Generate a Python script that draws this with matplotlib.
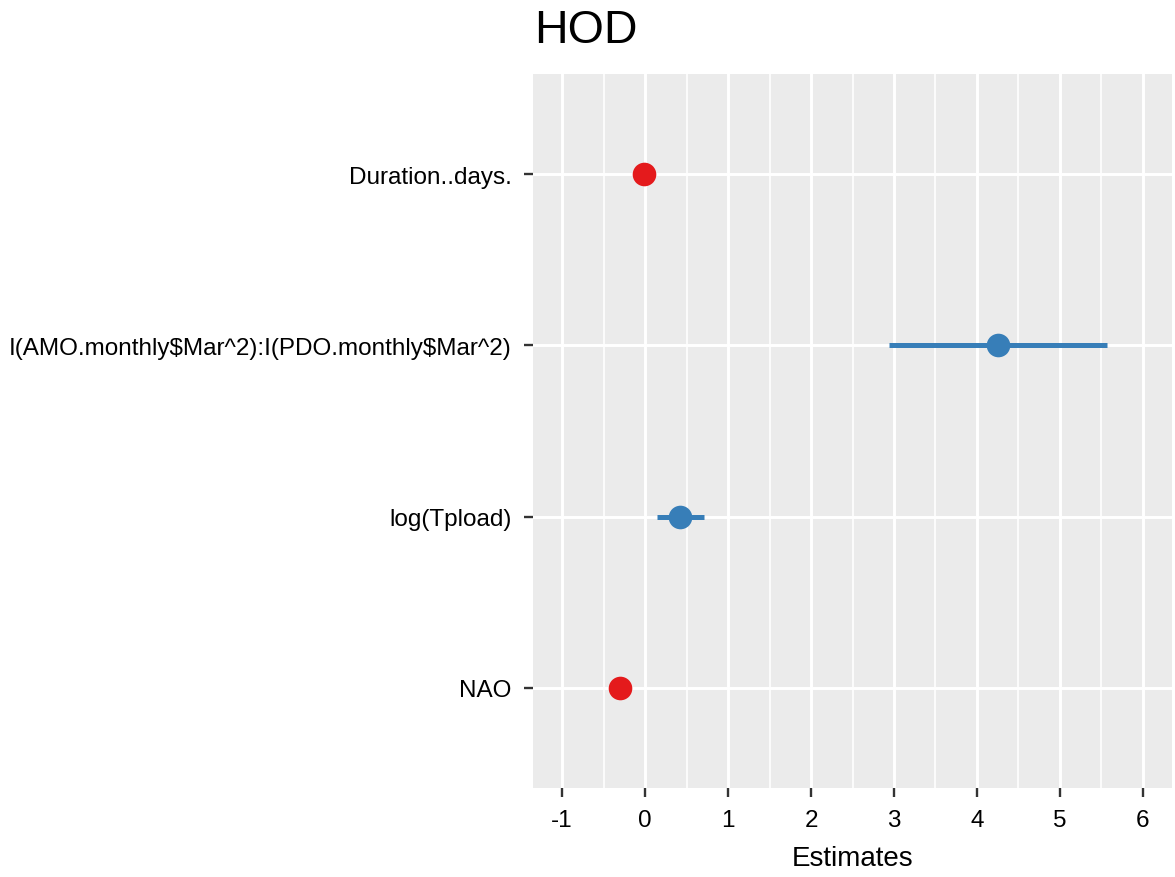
"""
Forest plot of model estimates for HOD
"""

import numpy as np
import matplotlib.pyplot as plt
from matplotlib.ticker import MultipleLocator

# terms from bottom to top
terms = ['NAO', 'log(Tpload)', r'I(AMO.monthly\$Mar^2):I(PDO.monthly\$Mar^2)', 'Duration..days.']
estimates = [-0.30, 0.42, 4.25, -0.01]
conf_low = [-0.33, 0.14, 2.94, -0.03]
conf_high = [-0.27, 0.71, 5.57, 0.01]
positive = [False, True, True, False]

col_pos = '#377EB8'
col_neg = '#E41A1C'


def main():
    plt.rcParams['font.family'] = ['Liberation Sans', 'DejaVu Sans']
    plt.rcParams['axes.unicode_minus'] = False

    fig = plt.figure()
    fig.set_size_inches(11.75, 8.78)

    left, right, top, bottom = 533/1175, 1172/1175, 1-75/878, 1-789/878
    ax = fig.add_axes([left, bottom, right-left, top-bottom])
    ax.set_facecolor('#EBEBEB')

    ypos = np.arange(1, len(terms)+1)
    for y, est, lo, hi, pos in zip(ypos, estimates, conf_low, conf_high, positive):
        c = col_pos if pos else col_neg
        ax.plot([lo, hi], [y, y], color=c, lw=3.6, solid_capstyle='butt', zorder=3)
        ax.plot(est, y, 'o', color=c, ms=17, mec='none', zorder=4)

    ax.set_xlim(-1.35, 6.35)
    ax.set_ylim(0.415, 4.585)
    ax.xaxis.set_major_locator(MultipleLocator(1))
    ax.xaxis.set_minor_locator(MultipleLocator(0.5))
    ax.set_yticks(ypos)
    ax.set_yticklabels(terms)

    ax.grid(which='major', color='white', lw=2.1)
    ax.grid(which='minor', axis='x', color='white', lw=1.2)
    ax.set_axisbelow(True)
    for s in ax.spines.values():
        s.set_visible(False)

    ax.tick_params(axis='both', which='major', length=6.3, width=1.7, color='#333333',
                   labelsize=17.5, labelcolor='black', pad=9)
    ax.tick_params(axis='x', which='major', pad=9)
    ax.tick_params(axis='both', which='minor', length=0)
    ax.set_xlabel('Estimates', fontsize=20, labelpad=10)
    ax.set_title('HOD', loc='left', fontsize=33.5, pad=23, x=0.002)

    plt.savefig('out.png', dpi=100)
    return


if __name__ == '__main__':
    main()
